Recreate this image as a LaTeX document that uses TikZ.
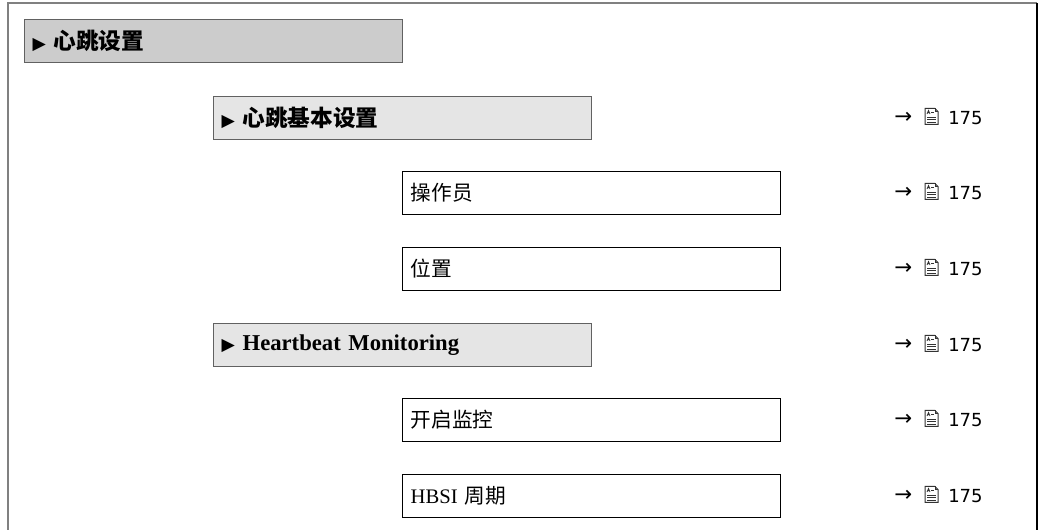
\documentclass[tikz,border=0pt]{standalone}
\usepackage{fontspec}
\setmainfont{Liberation Serif}
\newfontfamily\cjk{Noto Sans CJK SC}
\newfontfamily\symf{DejaVu Sans}
\begin{document}
\begin{tikzpicture}[x=0.75pt,y=-0.75pt,
  basebox/.style={rectangle, anchor=west, line width=1.1pt, minimum height=32.25pt,
    text width=271.5pt, inner xsep=6pt, inner ysep=0pt, align=left},
  topbox/.style={basebox, draw=black!62, fill=black!20, font=\fontsize{17pt}{20pt}\selectfont\bfseries},
  subbox/.style={basebox, draw=black!62, fill=black!10, font=\fontsize{17pt}{20pt}\selectfont\bfseries},
  parbox/.style={basebox, draw=black, fill=white, font=\fontsize{15.5pt}{18pt}\selectfont},
  reftxt/.style={anchor=west, inner sep=0pt, font=\symf\fontsize{13.5pt}{16pt}\selectfont},
  arrtxt/.style={anchor=west, inner sep=0pt, font=\symf\fontsize{16pt}{18pt}\selectfont},
  doc/.pic={
    \draw[line width=0.75pt, black!80] (-6.5,-8)--(3.5,-8)--(6.5,-5)--(6.5,8)--(-6.5,8)--cycle;
    \draw[line width=0.6pt, black!80] (3.5,-8)--(3.5,-5)--(6.5,-5);
    \draw[line width=0.6pt, black!80] (-4.5,-2.5)--(-3,-6)--(-1.5,-2.5) (-4,-3.8)--(-2,-3.8);
    \draw[line width=0.6pt, black!80] (-0.5,-4.5)--(2,-4.5) (-4.5,0.5)--(4.5,0.5) (-4.5,3)--(4.5,3) (-4.5,5.5)--(4.5,5.5);
  }]
\useasboundingbox (0,0) rectangle (1043,530);
% outer frame
\coordinate (fbl) at (8,530);
\coordinate (ftl) at (8,3);
\coordinate (ftr) at (1037,3);
\coordinate (fbr) at (1037,530);
\draw[black!50, line width=1.5pt] (fbl) -- (ftl) -- (ftr);
\draw[black, line width=1.5pt] (ftr) -- (fbr);
% boxes
\newcommand{\tri}{{\symf\fontsize{13pt}{15pt}\selectfont ▶}}
\node[topbox] (top) at (24,41) {\tri\ {\cjk\bfseries 心跳设置}};
\node[subbox] (basic) at (213,118) {\tri\ {\cjk\bfseries 心跳基本设置}};
\node[parbox] (op) at (402,193) {{\cjk 操作员}};
\node[parbox] (loc) at (402,269) {{\cjk 位置}};
\node[subbox] (hm) at (213,345) {\tri\ Heartbeat Monitoring};
\node[parbox] (en) at (402,420) {{\cjk 开启监控}};
\node[parbox] (hb) at (402,496) {HBSI {\cjk 周期}};
% references
\foreach \nm/\yy in {basic/118, op/193, loc/269, hm/345, en/420, hb/496}{
  \node[arrtxt] (arr-\nm) at (894,\yy) {→};
  \pic at (931.5,\yy-1.5) {doc};
  \node[reftxt] (num-\nm) at (948,\yy) {175};
}
\end{tikzpicture}
\end{document}
